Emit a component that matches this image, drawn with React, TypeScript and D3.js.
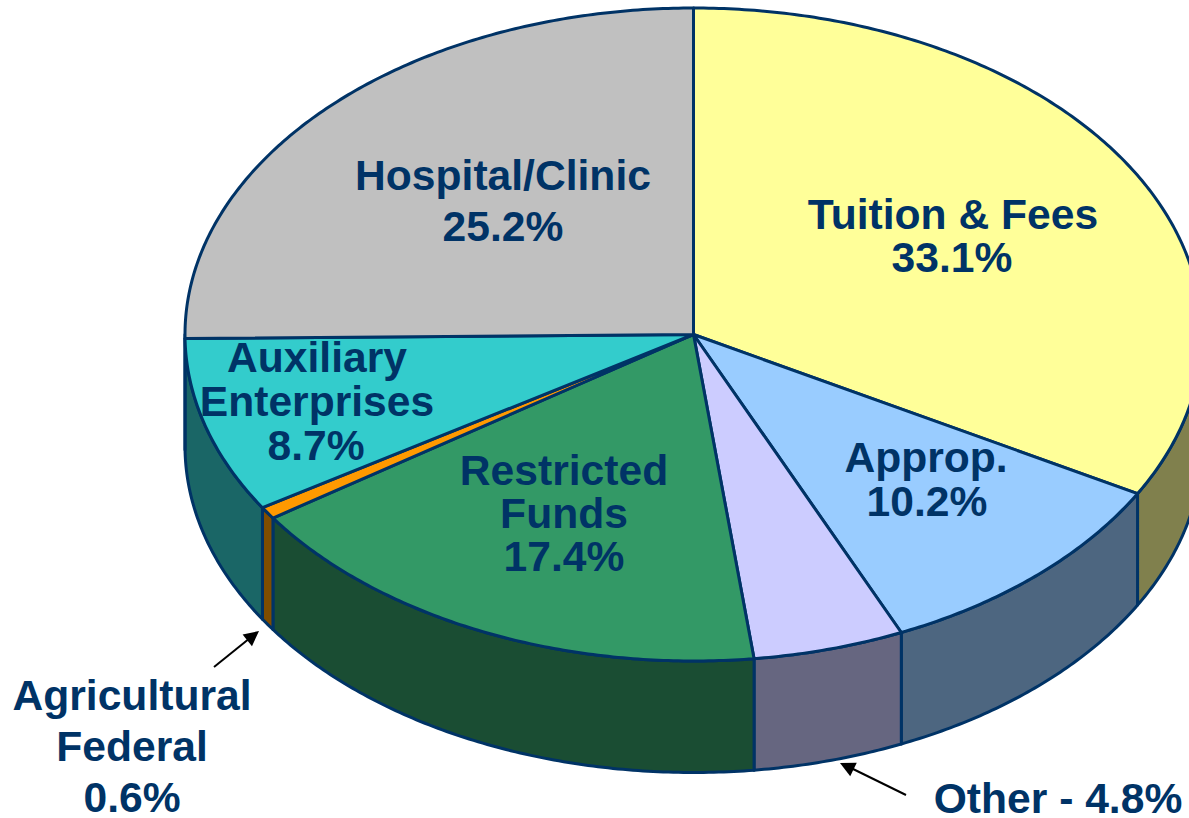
import React from "react";
import * as d3 from "d3";

const categories = ["Tuition & Fees", "Approp.", "Other", "Restricted Funds", "Agricultural Federal", "Auxiliary Enterprises", "Hospital/Clinic"];
const shares = [33.1, 10.2, 4.8, 17.4, 0.6, 8.7, 25.2];
const topColors = ["#FFFF99", "#99CCFF", "#CCCCFF", "#339966", "#FF9900", "#33CCCC", "#C0C0C0"];
const sideColors = ["#80804D", "#4D6680", "#666680", "#1A4D33", "#804D00", "#1A6666", "#606060"];

const INK = "#003366";
const W = 1189, H = 818;
const CX = 693.5, CY = 334.5, RX = 508.5, RY = 326.5, DEPTH = 111.5;

const xScale = d3.scaleLinear().domain([-1, 1]).range([CX - RX, CX + RX]);
const yScale = d3.scaleLinear().domain([-1, 1]).range([CY - RY, CY + RY]);

type Pt = [number, number];
const rim = (a: number, dy = 0): Pt => [xScale(Math.sin(a)), yScale(-Math.cos(a)) + dy];
const sweep = (a0: number, a1: number) => {
  const n = Math.max(2, Math.ceil((a1 - a0) / 0.01));
  return d3.range(n + 1).map((i) => a0 + ((a1 - a0) * i) / n);
};
const poly = d3.line<Pt>().curve(d3.curveLinear);

const arcs = d3.pie<number>().sort(null).value((d) => d)(shares);

const labels: { text: string; x: number; y: number }[] = [
  { text: "Hospital/Clinic", x: 503, y: 190 },
  { text: "25.2%", x: 503, y: 241 },
  { text: "Tuition & Fees", x: 953, y: 229 },
  { text: "33.1%", x: 952, y: 272 },
  { text: "Approp.", x: 926, y: 472 },
  { text: "10.2%", x: 927, y: 516 },
  { text: "Auxiliary", x: 317, y: 372 },
  { text: "Enterprises", x: 317, y: 416 },
  { text: "8.7%", x: 316, y: 460 },
  { text: "Restricted", x: 564, y: 485 },
  { text: "Funds", x: 564, y: 528 },
  { text: "17.4%", x: 564, y: 571 },
  { text: "Agricultural", x: 132, y: 710 },
  { text: "Federal", x: 132, y: 761 },
  { text: "0.6%", x: 132, y: 812 },
  { text: "Other - 4.8%", x: 1058, y: 813 },
];

const arrows: [Pt, Pt][] = [
  [[214, 667], [250, 638]],
  [[906, 795], [851, 768]],
];
const arrowTips: Pt[] = [[259, 631], [840, 763]];

function head(from: Pt, tip: Pt) {
  const ang = Math.atan2(tip[1] - from[1], tip[0] - from[0]);
  const len = 15, half = 7.5;
  const bx = tip[0] - len * Math.cos(ang), by = tip[1] - len * Math.sin(ang);
  const nx = -Math.sin(ang) * half, ny = Math.cos(ang) * half;
  return poly([tip, [bx + nx, by + ny], [bx - nx, by - ny]]) + "Z";
}

export default function App() {
  const HALF = Math.PI / 2;
  const sides = arcs
    .map((d, i) => {
      const a0 = Math.max(d.startAngle, HALF);
      const a1 = Math.min(d.endAngle, 3 * HALF);
      if (a1 <= a0) return null;
      const ang = sweep(a0, a1);
      const pts: Pt[] = [...ang.map((a) => rim(a)), ...ang.slice().reverse().map((a) => rim(a, DEPTH))];
      return <path key={categories[i]} d={poly(pts) + "Z"} fill={sideColors[i]} stroke={INK} strokeWidth={3} strokeLinejoin="round" />;
    })
    .filter(Boolean);

  const tops = arcs.map((d, i) => {
    const pts: Pt[] = [[CX, CY], ...sweep(d.startAngle, d.endAngle).map((a) => rim(a))];
    return <path key={categories[i]} d={poly(pts) + "Z"} fill={topColors[i]} stroke={INK} strokeWidth={3} strokeLinejoin="round" />;
  });

  return (
    <svg width={W} height={H} viewBox={`0 0 ${W} ${H}`} style={{ position: "fixed", left: 0, top: 0, display: "block", background: "#fff" }}>
      <g>{sides}</g>
      <g>{tops}</g>
      {arrows.map(([a, b], i) => (
        <g key={i}>
          <line x1={a[0]} y1={a[1]} x2={b[0]} y2={b[1]} stroke="#000" strokeWidth={2} />
          <path d={head(a, arrowTips[i])} fill="#000" />
        </g>
      ))}
      <g fontFamily="'Liberation Sans', Arial, sans-serif" fontWeight={700} fontSize={42.6} fill={INK} textAnchor="middle">
        {labels.map((l) => (
          <text key={l.text} x={l.x} y={l.y}>{l.text}</text>
        ))}
      </g>
    </svg>
  );
}
